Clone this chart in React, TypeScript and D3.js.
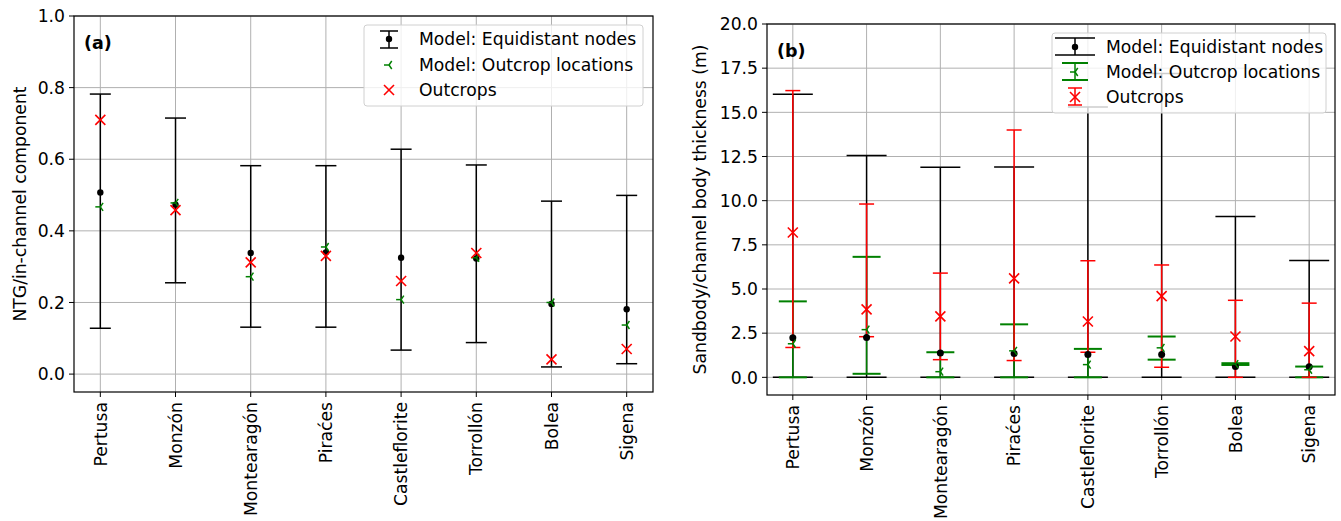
import React from 'react';
import * as d3 from 'd3';

// sites along the x axis (both panels)
const sites = ['Pertusa', 'Monzón', 'Montearagón', 'Piraćes', 'Castleflorite', 'Torrollón', 'Bolea', 'Sigena'];

// panel (a): NTG / in-channel component
const ntgNodes = [0.507, 0.473, 0.338, 0.340, 0.325, 0.323, 0.196, 0.181];
const ntgNodesLow = [0.128, 0.255, 0.131, 0.131, 0.067, 0.088, 0.020, 0.029];
const ntgNodesHigh = [0.782, 0.715, 0.582, 0.582, 0.628, 0.584, 0.483, 0.499];
const ntgModelOutcrop = [0.467, 0.478, 0.272, 0.355, 0.208, 0.325, 0.200, 0.137];
const ntgOutcrop = [0.710, 0.458, 0.312, 0.330, 0.260, 0.338, 0.041, 0.070];
const ntgTicks = [0.0, 0.2, 0.4, 0.6, 0.8, 1.0];

// panel (b): sandbody / channel body thickness (m)
const thkNodes = [2.24, 2.25, 1.38, 1.35, 1.29, 1.29, 0.62, 0.60];
const thkNodesLow = [0, 0, 0, 0, 0, 0, 0, 0];
const thkNodesHigh = [16.03, 12.55, 11.89, 11.9, 15.3, 17.2, 9.1, 6.62];
const thkModelOutcrop = [1.9, 2.7, 0.32, 1.5, 0.72, 1.67, 0.75, 0.43];
const thkModelOutcropLow = [0, 0.2, 0, 0, 0, 1.0, 0.7, 0];
const thkModelOutcropHigh = [4.3, 6.82, 1.42, 3.0, 1.61, 2.31, 0.8, 0.61];
const thkOutcrop = [8.2, 3.85, 3.45, 5.6, 3.16, 4.6, 2.31, 1.48];
const thkOutcropLow = [1.69, 2.3, 1.0, 0.95, 1.42, 0.57, 0, 0];
const thkOutcropHigh = [16.23, 9.81, 5.9, 14.0, 6.6, 6.36, 4.36, 4.2];
const thkTicks = [0, 2.5, 5, 7.5, 10, 12.5, 15, 17.5, 20];

const legendLabels = ['Model: Equidistant nodes', 'Model: Outcrop locations', 'Outcrops'];

const FONT = 'DejaVu Sans, sans-serif';
const FS = 17.2;
const GREEN = '#008000';
const RED = '#ff0000';

function TriLeft({ x, y, r = 5, color = GREEN }) {
  // matplotlib tri_left: stem to the left, two arms to the right
  const a = [[-r, 0], [0.55 * r, -0.8 * r], [0.55 * r, 0.8 * r]];
  return (
    <g stroke={color} strokeWidth={1.5}>
      {a.map((p, i) => <line key={i} x1={x} y1={y} x2={x + p[0]} y2={y + p[1]} />)}
    </g>
  );
}

function Cross({ x, y, r = 5, color = RED }) {
  return (
    <g stroke={color} strokeWidth={1.6}>
      <line x1={x - r} y1={y - r} x2={x + r} y2={y + r} />
      <line x1={x - r} y1={y + r} x2={x + r} y2={y - r} />
    </g>
  );
}

function ErrBar({ x, y1, y2, cap, color, width = 1.5, capWidth = 1.5 }) {
  return (
    <g stroke={color}>
      <line x1={x} x2={x} y1={y1} y2={y2} strokeWidth={width} />
      <line x1={x - cap} x2={x + cap} y1={y1} y2={y1} strokeWidth={capWidth} />
      <line x1={x - cap} x2={x + cap} y1={y2} y2={y2} strokeWidth={capWidth} />
    </g>
  );
}

function Frame({ left, right, top, bottom, y, ticks, fmt, label, labelX, tag }) {
  const x = d3.scaleLinear().domain([-0.35, sites.length - 1 + 0.35]).range([left, right]);
  return {
    x,
    under: (
      <g>
        {/* grid */}
        {ticks.map(t => (
          <line key={'gy' + t} x1={left} x2={right} y1={y(t)} y2={y(t)} stroke="#b0b0b0" strokeWidth={1} />
        ))}
        {sites.map((s, i) => (
          <line key={'gx' + s} x1={x(i)} x2={x(i)} y1={top} y2={bottom} stroke="#b0b0b0" strokeWidth={1} />
        ))}
      </g>
    ),
    over: (
      <g fontFamily={FONT} fontSize={FS} fill="#000">
        <rect x={left} y={top} width={right - left} height={bottom - top} fill="none" stroke="#000" strokeWidth={1.2} />
        {ticks.map(t => (
          <g key={'ty' + t}>
            <line x1={left - 5} x2={left} y1={y(t)} y2={y(t)} stroke="#000" strokeWidth={1} />
            <text x={left - 9} y={y(t)} dy="0.36em" textAnchor="end">{fmt(t)}</text>
          </g>
        ))}
        {sites.map((s, i) => (
          <g key={'tx' + s}>
            <line x1={x(i)} x2={x(i)} y1={bottom} y2={bottom + 5} stroke="#000" strokeWidth={1} />
            <text transform={`translate(${x(i)},${bottom + 10}) rotate(-90)`} dy="0.36em" textAnchor="end">{s}</text>
          </g>
        ))}
        <text transform={`translate(${labelX},${(top + bottom) / 2}) rotate(-90)`} textAnchor="middle" dy="0.36em">{label}</text>
        <text x={left + 10} y={top + 33} fontWeight="bold" fontSize={17.5}>{tag}</text>
      </g>
    ),
  };
}

export default function App() {
  // panel (a)
  const aL = 74, aR = 653, aT = 16, aB = 392;
  const ya = d3.scaleLinear().domain([-0.05, 1.0]).range([aB, aT]);
  const A = Frame({ left: aL, right: aR, top: aT, bottom: aB, y: ya, ticks: ntgTicks, fmt: d3.format('.1f'),
    label: 'NTG/in-channel component', labelX: 20, tag: '(a)' });

  // panel (b)
  const bL = 767, bR = 1335, bT = 24, bB = 395;
  const yb = d3.scaleLinear().domain([-1, 20]).range([bB, bT]);
  const B = Frame({ left: bL, right: bR, top: bT, bottom: bB, y: yb, ticks: thkTicks, fmt: d3.format('.1f'),
    label: 'Sandbody/channel body thickness (m)', labelX: 700, tag: '(b)' });

  return (
    <svg width={1341} height={521} style={{ position: 'absolute', left: 0, top: 0, background: '#fff' }}>
      {/* ---------- panel (a) ---------- */}
      {A.under}
      {sites.map((s, i) => (
        <g key={'a' + s}>
          <ErrBar x={A.x(i)} y1={ya(ntgNodesLow[i])} y2={ya(ntgNodesHigh[i])} cap={10.5} color="#000" />
          <circle cx={A.x(i)} cy={ya(ntgNodes[i])} r={3.2} fill="#000" />
          <TriLeft x={A.x(i)} y={ya(ntgModelOutcrop[i])} />
          <Cross x={A.x(i)} y={ya(ntgOutcrop[i])} />
        </g>
      ))}
      <g fontFamily={FONT} fontSize={FS}>
        <rect x={364} y={25} width={279} height={81} rx={3} fill="#fff" fillOpacity={0.8} stroke="#d0d0d0" />
        <ErrBar x={389} y1={31} y2={48} cap={9} color="#000" />
        <circle cx={389} cy={39} r={3.2} fill="#000" />
        <TriLeft x={389} y={65} />
        <Cross x={389} y={90} />
        {legendLabels.map((t, i) => (
          <text key={t} x={419} y={39 + i * 25.5} dy="0.36em">{t}</text>
        ))}
      </g>
      {A.over}

      {/* ---------- panel (b) ---------- */}
      {B.under}
      {sites.map((s, i) => (
        <g key={'bl' + s}>
          <ErrBar x={B.x(i)} y1={yb(thkNodesLow[i])} y2={yb(thkNodesHigh[i])} cap={20} color="#000" />
          <ErrBar x={B.x(i)} y1={yb(thkModelOutcropLow[i])} y2={yb(thkModelOutcropHigh[i])} cap={14} color={GREEN} capWidth={2} />
          <ErrBar x={B.x(i)} y1={yb(thkOutcropLow[i])} y2={yb(thkOutcropHigh[i])} cap={7.5} color={RED} />
        </g>
      ))}
      {sites.map((s, i) => (
        <g key={'bm' + s}>
          <circle cx={B.x(i)} cy={yb(thkNodes[i])} r={3.5} fill="#000" />
          <TriLeft x={B.x(i)} y={yb(thkModelOutcrop[i])} />
          <Cross x={B.x(i)} y={yb(thkOutcrop[i])} />
        </g>
      ))}
      <g fontFamily={FONT} fontSize={FS}>
        <rect x={1052} y={33} width={274} height={80} rx={3} fill="#fff" fillOpacity={0.8} stroke="#d0d0d0" />
        <ErrBar x={1075} y1={38} y2={55} cap={20} color="#000" />
        <circle cx={1075} cy={47} r={3.2} fill="#000" />
        <ErrBar x={1075} y1={63} y2={80} cap={13} color={GREEN} capWidth={2} />
        <TriLeft x={1075} y={72} />
        <ErrBar x={1075} y1={88} y2={105} cap={7} color={RED} />
        <Cross x={1075} y={97} />
        {legendLabels.map((t, i) => (
          <text key={t} x={1106} y={47 + i * 25} dy="0.36em">{t}</text>
        ))}
      </g>
      {B.over}
    </svg>
  );
}
